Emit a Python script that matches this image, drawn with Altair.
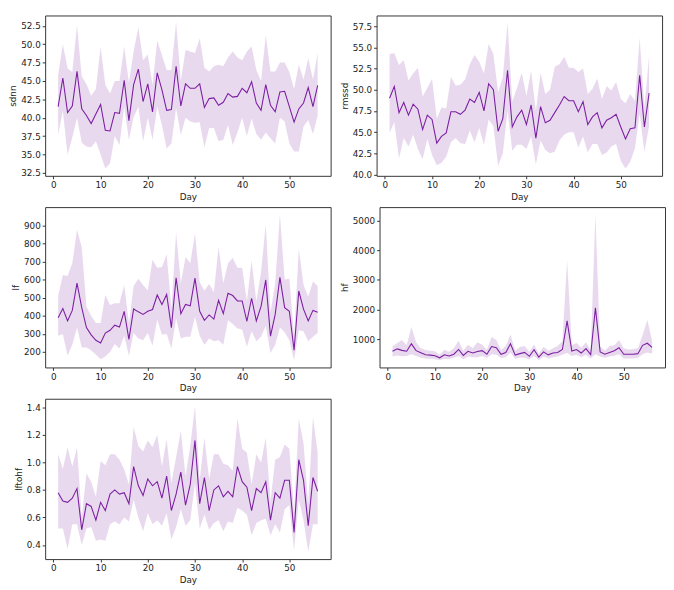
import altair as alt
import pandas as pd

days = list(range(1, 57))

sdnn_mean = [41.5, 45.4, 40.7, 41.6, 46.3, 41.2, 40.3, 39.2, 40.5, 41.8,
             38.3, 38.2, 40.7, 40.6, 45.1, 39.6, 44.5, 46.6, 42.2, 44.6,
             40.8, 46.1, 43.8, 41.0, 41.1, 47.0, 41.6, 44.6, 44.0, 44.0,
             44.6, 41.4, 42.6, 42.7, 41.7, 42.1, 43.3, 42.8, 42.9, 44.0,
             43.4, 44.9, 42.0, 41.0, 44.5, 41.7, 40.8, 43.5, 43.6, 41.5,
             39.4, 41.2, 42.0, 44.1, 41.5, 44.4]
sdnn_hi = [45.8, 50.0, 46.7, 46.2, 52.6, 45.6, 44.6, 43.0, 43.9, 49.6,
           44.5, 43.3, 45.0, 45.0, 49.7, 44.8, 49.0, 52.3, 47.8, 48.6,
           44.5, 50.5, 48.5, 46.5, 46.5, 53.0, 45.0, 49.2, 49.0, 48.8,
           50.8, 46.8, 46.3, 47.0, 47.2, 47.0, 48.2, 49.0, 48.2, 47.8,
           49.0, 49.7, 46.5, 45.0, 51.2, 46.3, 46.3, 47.5, 47.5, 46.2,
           43.9, 47.2, 45.2, 48.1, 45.2, 48.8]
sdnn_lo = [37.7, 40.9, 35.0, 37.3, 40.0, 36.6, 36.1, 36.0, 36.8, 35.0,
           33.1, 33.8, 37.5, 36.3, 41.5, 37.0, 40.1, 41.5, 36.8, 40.0,
           37.0, 41.5, 39.0, 35.8, 36.5, 41.3, 37.7, 40.0, 39.5, 39.3,
           39.4, 36.0, 38.6, 38.6, 36.8, 37.0, 39.0, 36.3, 38.0, 40.0,
           37.5, 39.9, 37.8, 37.0, 38.0, 37.2, 36.5, 40.0, 39.5, 36.5,
           35.4, 35.4, 38.8, 39.7, 37.8, 40.3]

rmssd_mean = [49.0, 50.4, 47.3, 48.5, 47.0, 48.3, 47.7, 45.3, 47.0, 46.5,
              43.7, 44.5, 44.9, 47.4, 47.4, 47.1, 47.6, 48.9, 48.5, 49.7,
              47.5, 50.7, 50.0, 45.1, 46.6, 52.3, 45.6, 46.8, 47.6, 45.9,
              48.2, 44.3, 48.0, 46.1, 46.4, 47.3, 48.2, 49.2, 48.7, 48.7,
              47.4, 48.6, 45.9, 46.8, 47.3, 45.5, 46.4, 46.7, 47.1, 45.6,
              44.2, 45.4, 45.5, 51.7, 45.6, 49.6]
rmssd_hi = [54.2, 54.3, 52.9, 53.5, 51.1, 51.9, 52.6, 49.2, 50.2, 51.3,
            46.6, 47.9, 47.8, 51.5, 50.5, 50.6, 51.2, 53.0, 54.1, 53.3,
            51.9, 55.4, 54.2, 49.7, 51.5, 57.9, 48.6, 50.2, 52.0, 49.3,
            52.2, 47.5, 52.0, 49.5, 50.0, 52.7, 53.0, 53.9, 52.6, 52.6,
            52.1, 52.5, 49.5, 50.1, 51.3, 48.9, 50.4, 49.9, 50.9, 48.9,
            48.4, 49.5, 48.7, 56.1, 48.0, 54.0]
rmssd_lo = [44.9, 46.2, 41.9, 44.3, 43.3, 44.7, 43.0, 41.8, 44.2, 42.3,
            41.1, 41.4, 42.1, 43.8, 44.3, 43.7, 43.6, 45.2, 43.8, 45.5,
            43.5, 46.5, 45.7, 41.0, 42.5, 47.5, 42.8, 43.5, 43.5, 43.0,
            44.5, 41.2, 44.0, 42.9, 42.5, 42.7, 44.0, 44.7, 45.0, 45.0,
            43.2, 44.5, 42.6, 43.6, 43.6, 42.3, 42.6, 43.3, 43.6, 41.6,
            40.7, 41.5, 43.1, 47.2, 42.7, 45.7]

lf_mean = [390, 440, 372, 430, 580, 445, 335, 295, 265, 250,
           305, 320, 348, 338, 425, 270, 438, 422, 408, 425,
           435, 515, 462, 518, 335, 610, 412, 463, 455, 608,
           425, 375, 405, 382, 485, 412, 525, 512, 482, 482,
           370, 497, 372, 452, 598, 288, 408, 612, 445, 425,
           210, 537, 437, 372, 430, 420]
lf_hi = [510, 625, 620, 690, 875, 780, 450, 400, 360, 360,
         515, 460, 470, 470, 570, 360, 565, 605, 570, 540,
         710, 665, 670, 740, 440, 860, 580, 725, 690, 855,
         585, 540, 575, 530, 780, 580, 690, 720, 665, 665,
         480, 705, 480, 640, 905, 420, 580, 960, 600, 605,
         285, 770, 570, 505, 590, 565]
lf_lo = [290, 300, 180, 240, 335, 225, 225, 210, 185, 160,
         175, 200, 245, 220, 290, 180, 305, 275, 265, 305,
         235, 380, 295, 300, 220, 385, 275, 285, 285, 395,
         290, 240, 275, 260, 265, 240, 375, 355, 330, 325,
         230, 315, 260, 285, 345, 195, 240, 335, 310, 265,
         155, 320, 315, 260, 285, 305]

hf_mean = [600, 680, 630, 600, 850, 620, 550, 480, 470, 450,
           380, 480, 440, 500, 660, 460, 600, 540, 590, 620,
           500, 760, 720, 500, 560, 850, 470, 520, 560, 430,
           650, 400, 580, 480, 540, 560, 660, 1620, 610, 660,
           540, 690, 490, 2060, 580, 500, 560, 620, 720, 500,
           500, 500, 520, 800, 870, 730]
hf_hi = [760, 880, 980, 800, 1420, 900, 700, 640, 620, 600,
         480, 650, 580, 700, 950, 620, 820, 700, 900, 820,
         650, 1080, 980, 640, 780, 1160, 620, 740, 780, 580,
         830, 520, 750, 620, 700, 780, 940, 3660, 800, 880,
         720, 900, 640, 5200, 760, 620, 780, 800, 980, 700,
         660, 680, 700, 1150, 1650, 960]
hf_lo = [420, 460, 430, 440, 500, 440, 380, 360, 350, 330,
         300, 340, 330, 380, 440, 330, 420, 400, 400, 440,
         370, 500, 480, 370, 400, 560, 350, 380, 380, 320,
         440, 300, 420, 360, 400, 420, 480, 540, 440, 480,
         400, 480, 360, 500, 420, 380, 420, 450, 500, 360,
         360, 360, 380, 500, 560, 520]

lftohf_mean = [0.78, 0.72, 0.71, 0.74, 0.81, 0.51, 0.70, 0.68, 0.58, 0.71,
               0.65, 0.77, 0.80, 0.77, 0.78, 0.70, 0.97, 0.83, 0.76, 0.88,
               0.83, 0.86, 0.74, 0.90, 0.65, 0.77, 0.93, 0.69, 0.84, 1.16,
               0.70, 0.89, 0.65, 0.80, 0.83, 0.75, 0.79, 0.75, 0.97, 0.86,
               0.82, 0.65, 0.81, 0.78, 0.86, 0.58, 0.78, 0.74, 0.87, 0.87,
               0.49, 1.02, 0.87, 0.54, 0.89, 0.79]
lftohf_hi = [1.06, 0.95, 1.11, 0.97, 1.11, 0.60, 0.92, 0.86, 0.75, 1.01,
             0.98, 1.06, 1.06, 1.02, 0.95, 0.84, 1.26, 1.12, 1.08, 1.16,
             1.11, 1.20, 0.97, 1.17, 0.85, 1.04, 1.23, 0.90, 1.12, 1.41,
             0.87, 1.18, 0.88, 1.06, 1.06, 0.99, 0.98, 0.94, 1.32, 1.10,
             1.07, 0.84, 1.06, 1.00, 1.18, 0.72, 1.02, 1.04, 1.13, 1.10,
             0.64, 1.32, 1.14, 0.70, 1.33, 1.07]
lftohf_lo = [0.52, 0.52, 0.37, 0.55, 0.55, 0.40, 0.52, 0.53, 0.43, 0.44,
             0.43, 0.55, 0.57, 0.55, 0.60, 0.57, 0.73, 0.60, 0.50, 0.63,
             0.55, 0.58, 0.54, 0.63, 0.44, 0.53, 0.66, 0.54, 0.58, 0.85,
             0.52, 0.62, 0.51, 0.56, 0.58, 0.50, 0.57, 0.56, 0.67, 0.65,
             0.62, 0.47, 0.56, 0.58, 0.59, 0.47, 0.55, 0.49, 0.66, 0.69,
             0.36, 0.73, 0.58, 0.35, 0.55, 0.55]

PURPLE = "#7b1fa2"
FONT = "DejaVu Sans"
W, H = 292, 164


def panel(name, mean, lo, hi, domain, ticks, fmt):
    df = pd.DataFrame({"Day": days, "mean": mean, "lo": lo, "hi": hi})
    x = alt.X("Day:Q",
              scale=alt.Scale(domain=[-1.75, 58.75], nice=False, zero=False),
              axis=alt.Axis(values=[0, 10, 20, 30, 40, 50], title="Day"))
    yscale = alt.Scale(domain=domain, nice=False, zero=False)
    yaxis = alt.Axis(values=ticks, format=fmt, title=name)
    band = alt.Chart(df).mark_area(color=PURPLE, opacity=0.17).encode(
        x=x, y=alt.Y("lo:Q", scale=yscale, axis=yaxis), y2="hi:Q")
    line = alt.Chart(df).mark_line(color=PURPLE, strokeWidth=1.1).encode(
        x=x, y=alt.Y("mean:Q", scale=yscale, axis=yaxis))
    return alt.layer(band, line).properties(width=W, height=H)


p1 = panel("sdnn", sdnn_mean, sdnn_lo, sdnn_hi, [32.1, 53.9],
           [32.5, 35, 37.5, 40, 42.5, 45, 47.5, 50, 52.5], ".1f")
p2 = panel("rmssd", rmssd_mean, rmssd_lo, rmssd_hi, [39.85, 58.75],
           [40, 42.5, 45, 47.5, 50, 52.5, 55, 57.5], ".1f")
p3 = panel("lf", lf_mean, lf_lo, lf_hi, [115, 1000],
           [200, 300, 400, 500, 600, 700, 800, 900], "d")
p4 = panel("hf", hf_mean, hf_lo, hf_hi, [55, 5450],
           [1000, 2000, 3000, 4000, 5000], "d")
p5 = panel("lftohf", lftohf_mean, lftohf_lo, lftohf_hi, [0.297, 1.463],
           [0.4, 0.6, 0.8, 1.0, 1.2, 1.4], ".1f")

chart = alt.vconcat(
    alt.hconcat(p1, p2, spacing=8),
    alt.hconcat(p3, p4, spacing=8),
    p5,
    spacing=4,
).configure(background="white", padding=0).configure_view(
    stroke="#333333", strokeWidth=1
).configure_axis(
    labelFont=FONT, titleFont=FONT, labelFontSize=9, titleFontSize=9,
    titleFontWeight="normal", labelColor="#222222", titleColor="#222222",
    grid=False, domain=False, tickColor="#333333", tickSize=3,
    labelPadding=2, titlePadding=3,
)

chart.save("out.html", embed_options={"renderer": "svg", "actions": False})
